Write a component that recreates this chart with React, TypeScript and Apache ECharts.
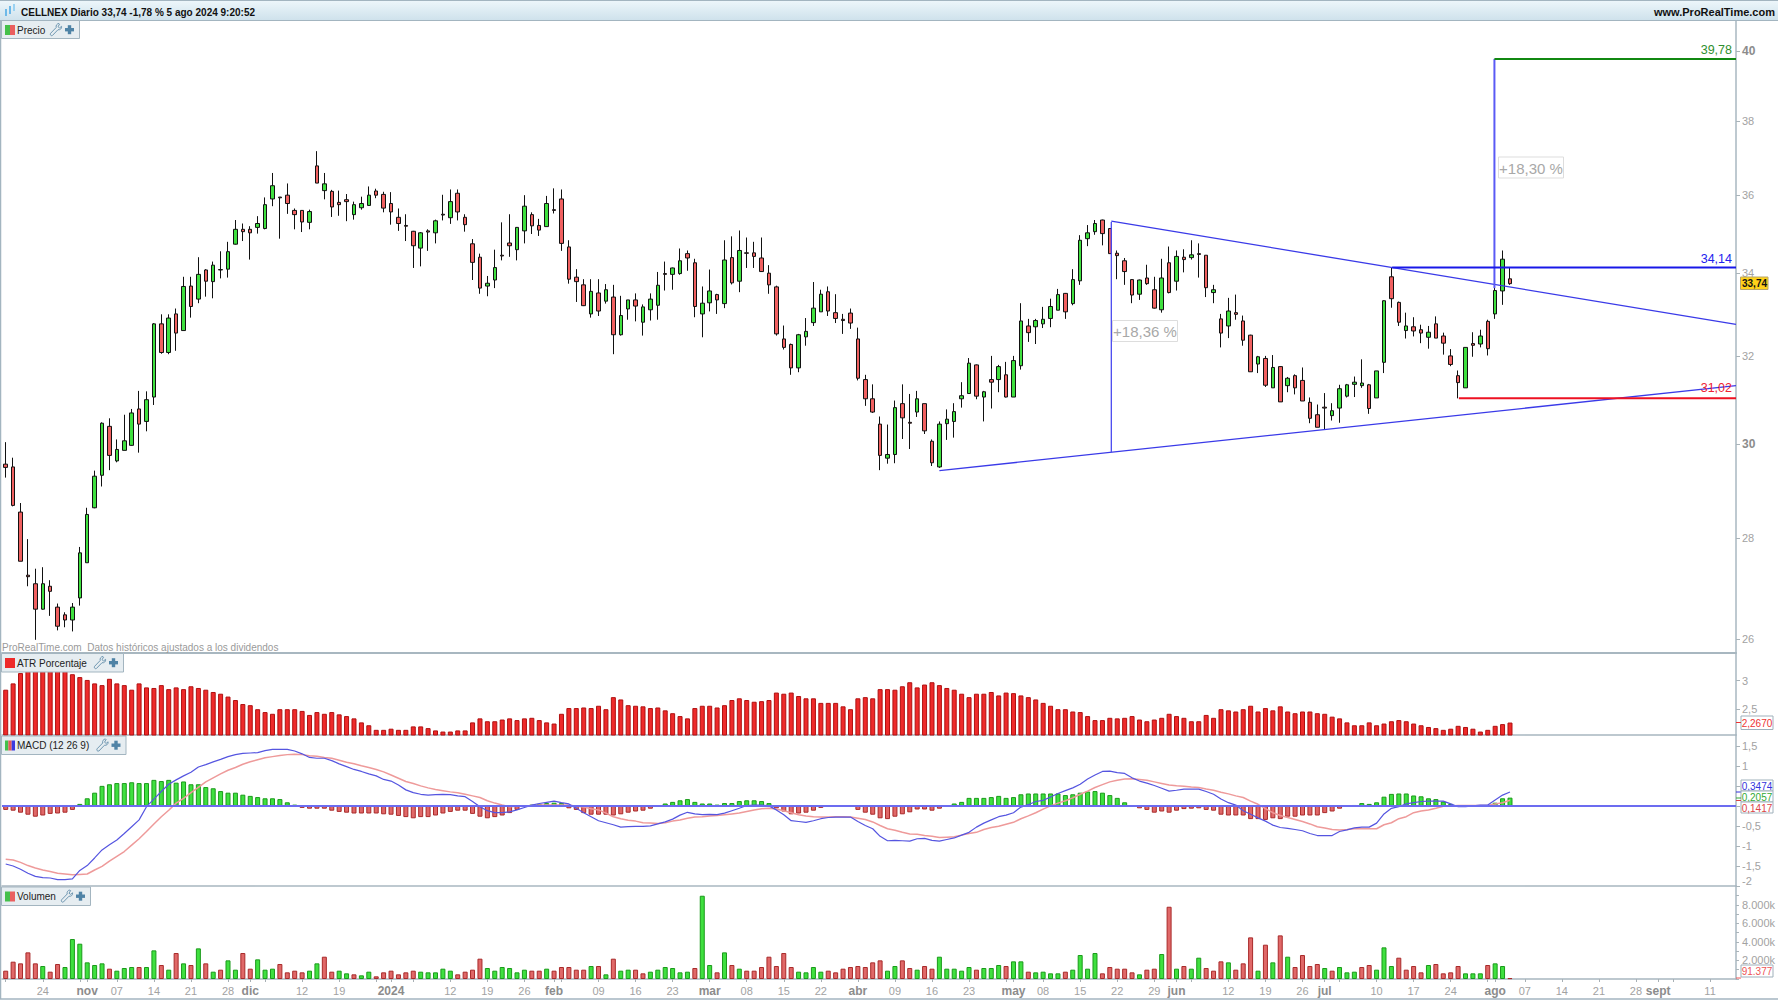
import React, { useEffect, useRef } from "react";
import * as echarts from "echarts";

const firstDate = "2023-10-17";
const barCount = 234;
const holidays = ["2023-12-25", "2023-12-26", "2024-01-01", "2024-03-29", "2024-04-01", "2024-05-01"];

const tickDates = ["2023-10-24","2023-11-01","2023-11-07","2023-11-14","2023-11-21","2023-11-28","2023-12-01","2023-12-12","2023-12-19","2024-01-02","2024-01-12","2024-01-19","2024-01-26","2024-02-01","2024-02-09","2024-02-16","2024-02-23","2024-03-01","2024-03-08","2024-03-15","2024-03-22","2024-04-02","2024-04-09","2024-04-16","2024-04-23","2024-05-02","2024-05-08","2024-05-15","2024-05-22","2024-05-29","2024-06-03","2024-06-12","2024-06-19","2024-06-26","2024-07-01","2024-07-10","2024-07-17","2024-07-24","2024-08-01","2024-08-07","2024-08-14","2024-08-21","2024-08-28","2024-09-02","2024-09-11"];
const tickTexts = ["24","nov","07","14","21","28","dic","12","19","2024","12","19","26","feb","09","16","23","mar","08","15","22","abr","09","16","23","may","08","15","22","29","jun","12","19","26","jul","10","17","24","ago","07","14","21","28","sept","11"];
const boldTicks = ["nov","dic","2024","feb","mar","abr","may","jun","jul","ago","sept"];

const priceTicks = [40, 38, 36, 34, 32, 30, 28, 26];
const atrTicks = [2.5, 3];
const macdTicks = [-2, -1.5, -1, -0.5, 0, 0.5, 1, 1.5];
const macdLabelTicks = [-2, -1.5, -1, -0.5, 1, 1.5];

const opens = [
29.56,29.50,28.54,27.25,27.08,26.58,27.03,26.62,26.47,26.37,
26.80,27.50,28.63,29.32,30.39,29.63,29.86,29.97,30.78,30.50,
31.05,32.76,32.08,33.00,32.60,33.68,33.36,34.08,33.79,34.09,
34.10,34.73,35.11,35.11,35.16,35.13,35.90,35.95,36.00,35.60,
35.60,35.29,36.78,36.12,36.10,35.81,35.88,35.49,35.67,35.73,
36.11,36.02,35.78,35.42,35.21,35.06,34.63,35.07,35.02,35.50,
35.41,36.05,35.42,34.74,34.40,33.68,33.83,34.45,34.76,34.59,
35.07,35.49,35.21,35.18,35.62,35.90,34.66,33.90,33.71,33.00,
33.51,33.31,33.41,32.50,33.12,33.34,32.80,33.10,33.21,33.99,
33.97,33.99,34.49,34.26,33.00,33.27,33.47,33.25,34.39,33.80,
34.51,34.51,34.38,34.00,33.66,32.40,32.27,31.72,32.45,32.79,
33.05,33.54,33.03,32.87,33.02,32.40,31.45,31.01,30.44,29.69,
29.77,30.90,30.48,30.71,30.90,30.06,29.50,30.45,30.50,31.01,
31.13,31.79,31.05,31.45,31.45,31.56,31.05,31.77,32.71,32.69,
32.76,32.89,33.09,33.50,33.25,33.81,34.87,35.05,35.35,35.13,
34.50,34.31,33.84,33.48,33.88,33.59,33.10,34.26,33.80,34.40,
34.39,34.49,34.45,33.52,32.88,32.71,33.03,32.83,32.49,31.81,
31.94,31.26,31.75,31.31,31.54,31.43,30.93,30.65,30.82,30.63,
30.80,31.07,31.34,31.31,31.33,31.03,31.85,33.91,33.28,32.60,
32.69,32.62,32.44,32.76,32.47,32.00,31.54,31.26,32.29,32.28,
32.82,33.00,33.56,33.86];
const closes = [
29.49,28.68,27.53,27.22,26.58,27.08,26.93,26.25,26.37,26.62,
27.70,28.49,29.30,30.46,29.75,29.88,30.07,30.69,30.44,30.99,
32.76,32.08,32.90,32.54,33.67,33.18,33.97,33.80,34.20,34.08,
34.54,35.11,35.05,35.02,35.26,35.75,36.25,35.93,35.78,35.49,
35.30,35.57,36.32,36.30,35.69,35.75,35.83,35.75,35.78,36.00,
36.00,35.66,35.56,35.26,35.19,34.69,35.02,35.04,35.33,35.48,
35.83,35.56,35.23,34.27,33.63,33.75,34.14,34.43,34.69,35.16,
35.71,35.20,35.09,35.78,35.60,34.75,33.85,33.79,33.20,33.55,
33.07,33.59,32.50,32.96,33.34,33.19,33.17,33.36,33.70,33.97,
34.13,34.31,34.38,33.18,33.26,33.56,33.34,34.33,33.76,34.57,
34.50,34.42,34.04,33.71,32.52,32.20,31.72,32.50,32.58,33.14,
33.48,33.07,32.89,32.84,32.78,31.48,31.01,30.71,29.75,29.77,
30.81,30.58,30.46,31.01,30.29,29.59,30.44,30.55,30.72,31.08,
31.83,31.07,31.17,31.39,31.75,31.05,31.89,32.83,32.55,32.84,
32.87,33.18,33.47,33.05,33.84,34.83,35.02,35.26,35.00,34.49,
34.44,34.04,33.46,33.83,33.74,33.14,33.88,33.52,34.42,34.34,
34.46,34.47,33.64,33.59,32.54,33.07,32.99,32.37,31.63,31.98,
31.32,31.73,30.94,31.48,31.26,30.96,30.57,30.37,30.80,30.74,
31.24,31.33,31.39,31.37,30.79,31.65,33.32,33.37,32.80,32.71,
32.59,32.54,32.56,32.42,32.30,31.80,31.38,32.20,32.25,32.47,
32.17,33.57,34.35,33.74];
const lows = [
29.27,28.66,27.53,27.03,25.99,26.57,26.45,26.17,26.23,26.15,
26.65,27.50,28.62,29.08,29.43,29.60,29.86,29.96,29.81,30.28,
30.87,32.05,32.04,32.12,32.60,32.91,33.26,33.42,33.38,33.87,
33.89,34.72,34.81,34.34,35.00,35.11,35.71,34.87,35.51,35.11,
35.04,35.11,36.32,35.89,35.43,35.46,35.32,35.36,35.62,35.72,
35.92,35.55,35.23,35.07,34.81,34.13,34.17,34.56,34.75,35.34,
35.25,35.34,35.05,33.83,33.49,33.43,33.63,34.32,34.41,34.32,
34.75,34.99,34.94,35.18,35.52,34.56,33.74,33.29,33.19,32.91,
32.95,33.25,32.04,32.48,32.86,32.82,32.48,32.84,32.86,33.57,
33.59,33.96,34.06,32.92,32.44,33.06,33.00,33.14,33.72,33.53,
34.13,34.13,34.03,33.49,32.48,32.15,31.56,31.62,32.24,32.71,
33.05,32.95,32.78,32.52,32.64,31.43,30.85,30.69,29.43,29.57,
29.58,30.11,29.89,30.60,30.22,29.52,29.48,30.09,30.14,30.81,
31.13,31.00,30.50,30.79,31.16,31.04,31.05,31.68,32.33,32.28,
32.66,32.68,33.09,32.88,33.21,33.71,34.68,34.97,34.70,34.49,
33.85,33.71,33.26,33.34,33.71,33.13,33.03,33.50,33.57,34.02,
34.34,33.89,33.41,33.26,32.20,32.42,32.86,32.24,31.63,31.60,
31.28,31.26,30.94,31.16,31.11,30.96,30.46,30.37,30.33,30.52,
30.47,31.04,31.05,31.26,30.67,31.03,31.60,33.15,32.71,32.41,
32.46,32.30,32.17,32.42,32.03,31.76,31.02,31.26,31.98,32.20,
32.01,32.88,33.22,33.71];
const highs = [
30.04,29.70,28.73,27.98,27.38,27.41,27.15,26.69,26.52,26.70,
27.82,28.63,29.42,30.48,30.57,30.10,30.65,30.78,31.19,31.18,
32.78,32.99,32.99,33.13,33.91,33.91,34.40,34.10,34.29,34.55,
34.79,35.35,35.26,35.19,35.45,35.94,36.59,35.95,36.31,35.65,
35.60,35.62,37.18,36.59,36.14,36.12,36.03,35.83,35.96,36.23,
36.17,36.09,36.08,35.65,35.50,35.07,35.04,35.11,35.36,36.01,
36.15,36.15,35.50,34.86,34.49,33.93,34.59,35.29,35.50,35.17,
36.00,35.55,35.38,35.98,36.18,36.15,34.83,34.10,33.85,33.85,
33.85,33.73,33.71,33.44,33.34,33.50,33.23,33.50,34.03,34.29,
34.14,34.62,34.57,34.36,33.67,34.09,33.49,34.83,34.93,35.08,
34.90,34.79,34.90,34.20,33.69,32.72,32.29,32.52,32.90,33.78,
33.59,33.67,33.48,33.00,33.13,32.67,31.56,31.34,30.61,30.43,
30.97,31.34,31.12,31.19,30.90,30.10,30.50,30.77,30.91,31.39,
31.95,31.80,31.19,32.00,31.79,31.86,32.00,33.26,32.88,32.88,
33.17,33.37,33.61,33.51,34.10,34.96,35.22,35.35,35.36,35.14,
34.57,34.38,33.85,33.84,34.21,33.91,34.36,34.67,34.57,34.60,
34.83,34.75,34.45,33.71,33.00,33.39,33.47,32.96,32.50,32.00,
32.00,32.02,31.76,31.51,31.57,31.73,31.04,30.88,31.14,30.91,
31.33,31.35,31.52,31.92,31.35,31.65,33.33,34.15,33.30,33.03,
32.92,32.74,32.71,32.94,32.55,32.16,31.66,32.20,32.56,32.62,
32.86,33.67,34.57,34.13];

const atrValues = [
2.84,2.95,3.13,3.19,3.21,3.22,3.22,3.21,3.19,3.11,
3.06,3.01,2.95,2.92,3.03,2.95,2.92,2.84,2.95,2.88,
2.87,2.92,2.85,2.88,2.85,2.90,2.87,2.84,2.80,2.77,
2.72,2.66,2.59,2.57,2.50,2.45,2.42,2.50,2.50,2.50,
2.47,2.40,2.45,2.42,2.45,2.41,2.38,2.34,2.27,2.22,
2.14,2.14,2.16,2.14,2.14,2.20,2.20,2.17,2.13,2.11,
2.11,2.13,2.13,2.27,2.34,2.29,2.29,2.32,2.34,2.31,
2.34,2.35,2.31,2.27,2.25,2.42,2.52,2.52,2.53,2.52,
2.56,2.50,2.71,2.67,2.57,2.56,2.55,2.52,2.53,2.48,
2.43,2.38,2.34,2.52,2.56,2.56,2.53,2.57,2.66,2.69,
2.66,2.63,2.64,2.66,2.79,2.77,2.79,2.73,2.69,2.69,
2.61,2.61,2.61,2.55,2.50,2.69,2.71,2.69,2.85,2.85,
2.84,2.90,2.97,2.88,2.93,2.97,2.92,2.87,2.84,2.77,
2.71,2.77,2.77,2.80,2.74,2.79,2.78,2.74,2.71,2.67,
2.61,2.56,2.50,2.50,2.46,2.45,2.38,2.31,2.31,2.35,
2.34,2.35,2.38,2.32,2.29,2.32,2.35,2.42,2.38,2.35,
2.29,2.29,2.40,2.35,2.50,2.48,2.46,2.50,2.56,2.46,
2.52,2.48,2.55,2.46,2.43,2.46,2.46,2.43,2.42,2.37,
2.34,2.27,2.22,2.22,2.27,2.22,2.25,2.29,2.31,2.29,
2.25,2.22,2.19,2.17,2.14,2.16,2.21,2.19,2.16,2.11,
2.14,2.21,2.24,2.267];

const macdLine = [
-1.45,-1.50,-1.58,-1.68,-1.76,-1.79,-1.80,-1.84,-1.84,-1.82,
-1.61,-1.49,-1.30,-1.10,-0.97,-0.85,-0.69,-0.52,-0.35,-0.02,
0.17,0.36,0.54,0.65,0.75,0.84,0.97,1.03,1.10,1.16,
1.23,1.28,1.31,1.32,1.33,1.38,1.41,1.41,1.41,1.37,
1.30,1.21,1.19,1.19,1.13,1.05,0.98,0.91,0.86,0.80,
0.75,0.66,0.62,0.52,0.40,0.33,0.29,0.27,0.28,0.29,
0.28,0.25,0.23,0.11,-0.02,-0.12,-0.17,-0.17,-0.15,-0.10,
-0.04,0.02,0.06,0.09,0.12,0.08,0.05,-0.06,-0.17,-0.27,
-0.37,-0.42,-0.47,-0.53,-0.52,-0.51,-0.51,-0.50,-0.45,-0.40,
-0.33,-0.23,-0.16,-0.20,-0.22,-0.21,-0.22,-0.18,-0.12,-0.06,
0.01,0.02,0.02,0,-0.10,-0.22,-0.37,-0.39,-0.41,-0.37,
-0.32,-0.29,-0.28,-0.28,-0.28,-0.39,-0.49,-0.57,-0.76,-0.87,
-0.86,-0.87,-0.88,-0.82,-0.81,-0.86,-0.88,-0.84,-0.80,-0.73,
-0.66,-0.53,-0.43,-0.35,-0.27,-0.23,-0.17,-0.03,0.03,0.11,
0.14,0.22,0.31,0.38,0.45,0.54,0.67,0.77,0.86,0.87,
0.83,0.81,0.70,0.62,0.57,0.51,0.44,0.37,0.39,0.42,
0.42,0.42,0.36,0.29,0.17,0.08,0.02,-0.12,-0.21,-0.30,
-0.38,-0.48,-0.54,-0.56,-0.59,-0.62,-0.69,-0.74,-0.74,-0.74,
-0.64,-0.60,-0.55,-0.53,-0.53,-0.43,-0.20,-0.06,-0.02,0.05,
0.08,0.11,0.12,0.12,0.12,0.05,-0.02,-0.02,0,0.02,
0.02,0.15,0.27,0.3474];
const signalLine = [
-1.33,-1.35,-1.41,-1.49,-1.55,-1.60,-1.64,-1.68,-1.70,-1.72,
-1.71,-1.70,-1.60,-1.51,-1.38,-1.26,-1.14,-0.98,-0.82,-0.64,
-0.45,-0.27,-0.11,0.07,0.19,0.33,0.46,0.60,0.70,0.80,
0.89,0.96,1.04,1.10,1.15,1.20,1.23,1.26,1.28,1.29,
1.28,1.25,1.24,1.21,1.19,1.14,1.09,1.05,1.00,0.96,
0.91,0.85,0.77,0.69,0.61,0.56,0.50,0.45,0.41,0.38,
0.35,0.33,0.29,0.25,0.21,0.13,0.07,0.02,-0.02,-0.01,
0,0.01,0.02,0.02,0.02,0.02,0.02,-0.01,-0.03,-0.07,
-0.10,-0.18,-0.27,-0.32,-0.36,-0.38,-0.42,-0.43,-0.44,-0.42,
-0.38,-0.35,-0.31,-0.28,-0.27,-0.25,-0.24,-0.22,-0.20,-0.18,
-0.14,-0.10,-0.07,-0.06,-0.08,-0.12,-0.17,-0.22,-0.25,-0.27,
-0.28,-0.28,-0.27,-0.27,-0.28,-0.31,-0.34,-0.40,-0.49,-0.57,
-0.61,-0.66,-0.70,-0.71,-0.74,-0.76,-0.79,-0.78,-0.77,-0.73,
-0.69,-0.66,-0.59,-0.54,-0.51,-0.46,-0.41,-0.32,-0.25,-0.17,
-0.08,0,0.07,0.13,0.20,0.29,0.37,0.46,0.53,0.60,
0.64,0.67,0.68,0.66,0.64,0.60,0.56,0.52,0.50,0.49,
0.47,0.46,0.42,0.39,0.34,0.30,0.25,0.21,0.12,0.04,
-0.07,-0.17,-0.24,-0.29,-0.34,-0.39,-0.45,-0.52,-0.55,-0.59,
-0.60,-0.59,-0.57,-0.57,-0.57,-0.57,-0.47,-0.42,-0.32,-0.27,
-0.17,-0.13,-0.10,-0.06,-0.01,0,0.01,0.01,0.01,0.01,
0.01,0.05,0.08,0.1417];
const macdHist = [
-0.10,-0.12,-0.17,-0.22,-0.27,-0.24,-0.20,-0.19,-0.17,-0.10,
0.05,0.19,0.33,0.50,0.54,0.57,0.57,0.59,0.57,0.57,
0.65,0.62,0.65,0.58,0.61,0.54,0.54,0.47,0.44,0.37,
0.33,0.33,0.28,0.25,0.22,0.19,0.19,0.17,0.09,0.03,
-0.05,-0.07,-0.07,-0.07,-0.12,-0.15,-0.17,-0.19,-0.19,-0.19,
-0.19,-0.21,-0.22,-0.25,-0.28,-0.31,-0.28,-0.28,-0.24,-0.19,
-0.15,-0.12,-0.12,-0.20,-0.27,-0.31,-0.28,-0.24,-0.18,-0.10,
-0.02,0.03,0.05,0.07,0.08,0.07,-0.06,-0.10,-0.18,-0.22,
-0.22,-0.22,-0.24,-0.21,-0.17,-0.14,-0.12,-0.07,-0.01,0.06,
0.10,0.14,0.17,0.10,0.06,0.06,0.03,0.07,0.07,0.12,
0.14,0.14,0.12,0.07,-0.06,-0.14,-0.21,-0.19,-0.17,-0.12,
-0.05,-0.02,-0.005,0,0,-0.10,-0.17,-0.22,-0.31,-0.33,
-0.27,-0.21,-0.16,-0.09,-0.09,-0.12,-0.07,-0.02,0.06,0.10,
0.20,0.20,0.20,0.22,0.25,0.20,0.22,0.29,0.31,0.31,
0.31,0.31,0.31,0.27,0.29,0.33,0.36,0.37,0.33,0.27,
0.20,0.09,0,-0.06,-0.10,-0.17,-0.14,-0.17,-0.12,-0.08,
-0.07,-0.06,-0.10,-0.12,-0.22,-0.24,-0.24,-0.24,-0.33,-0.33,
-0.35,-0.31,-0.33,-0.27,-0.27,-0.24,-0.24,-0.24,-0.18,-0.14,
-0.07,-0.02,0.02,0.07,0.05,0.09,0.23,0.30,0.31,0.31,
0.26,0.24,0.19,0.17,0.11,0.05,0,0,0,0,
0,0.08,0.19,0.2057];

const volumes = [
900,1872,1692,2880,1692,1404,792,1620,1296,4320,
3816,1800,1512,1692,1116,900,1188,1296,1296,1296,
3096,1512,1008,2808,1692,1512,3312,1692,792,1008,
2016,1008,2808,1116,2124,1008,1116,1620,720,900,
720,900,1692,2412,792,900,612,504,396,792,
288,720,900,504,720,900,792,720,720,1116,
900,504,792,1008,2196,1188,900,1296,1188,720,
1008,900,900,1116,900,1296,1296,1008,1008,1404,
1404,504,2196,900,1008,1008,612,792,1008,1296,
1188,720,792,1188,9000,1512,720,2880,1512,1116,
900,900,1296,2412,1404,2808,1296,792,720,1296,
792,900,720,1116,1296,1404,1296,1800,2016,900,
1404,2016,1188,1008,1404,1116,2412,1116,1116,900,
1296,1008,1188,1188,1512,1404,1908,1908,792,720,
792,612,612,792,1008,2592,1116,2808,612,1296,
1116,1116,720,504,1008,1116,2700,7812,1116,1404,
1116,2304,1188,900,1908,1800,1008,1692,4500,900,
3708,1800,4716,2412,1296,2592,1404,1620,1188,900,
1296,720,792,1296,1512,1008,3420,1404,2304,1008,
1404,720,1512,1620,612,720,1404,612,612,612,
1512,1692,1404,91.377];
const volumeAxisTicks = [2000, 4000, 6000, 8000];

const upperTrendX = [149.2, 233.5];
const upperTrendP = [35.32, 32.75];
const lowerTrendX = [126, 233.5];
const lowerTrendP = [29.42, 31.31];
const firstMeasureX = [149.2, 149.2];
const firstMeasureP = [29.82, 35.3];
const secondMeasureX = [200.9, 200.9];
const secondMeasureP = [33.63, 39.78];
const targetLevel = 39.78;
const resistanceLevel = 34.14;
const supportLevel = 31.02;
const targetStartX = 200.9;
const resistanceStartX = 187.1;
const supportStartX = 196.1;
const axisEndX = 233.5;

const FONT = '"Liberation Sans", Arial, sans-serif';
const GREEN = "#3fe03f";
const RED = "#f06060";
const GRID_LEFT = 2;
const GRID_RIGHT = 42;
const AXIS_LINE = "#a8b7c0";

function pad(n: number) { return n < 10 ? "0" + n : "" + n; }
function buildCategories(): string[] {
  const out: string[] = [];
  const d = new Date(firstDate + "T12:00:00Z");
  while (out.length < barCount) {
    const s = d.getUTCFullYear() + "-" + pad(d.getUTCMonth() + 1) + "-" + pad(d.getUTCDate());
    const wd = d.getUTCDay();
    if (wd !== 0 && wd !== 6 && holidays.indexOf(s) < 0) out.push(s);
    d.setUTCDate(d.getUTCDate() + 1);
  }
  return out;
}

function txt(text: string, x: number, y: number, fill: string, font: string, align = "left", z = 110) {
  return { type: "text", z, silent: true, style: { text, x, y, fill, font, align, verticalAlign: "middle" } };
}
function rect(x: number, y: number, width: number, height: number, fill: any, stroke?: string, z = 100) {
  return { type: "rect", z, silent: true, shape: { x, y, width, height }, style: { fill, stroke: stroke || "none", lineWidth: stroke ? 1 : 0 } };
}
function hline(x1: number, y1: number, x2: number, y2: number, stroke: string, lineWidth = 1, z = 100) {
  return { type: "line", z, silent: true, shape: { x1, y1, x2, y2 }, style: { stroke, lineWidth } };
}
function tab(x: number, y: number, w: number, h: number, label: string, colors: string[]) {
  const els: any[] = [rect(x + 0.5, y + 0.5, w, h, "#e6edf1", "#a3b5c0", 100)];
  const sw = 10 / colors.length;
  colors.forEach((c, i) => els.push(rect(x + 4 + i * sw, y + 5, sw, 10, c, undefined, 101)));
  els.push(txt(label, x + 16, y + 10, "#222", '10px ' + FONT));
  const wx = x + w - 29;
  els.push({ type: "wrench", z: 102, silent: true, x: wx, y: y + 3.5, scaleX: 1, scaleY: 1, style: { fill: "none", stroke: "#6f97b1", lineWidth: 1 } });
  els.push(rect(wx + 15, y + 8, 9, 3.4, "#4f83a6", undefined, 102));
  els.push(rect(wx + 17.8, y + 5.2, 3.4, 9, "#4f83a6", undefined, 102));
  return els;
}
function valueBox(y: number, h: number, label: string, color: string, z: number, tickY: number) {
  return [
    rect(1741, y, 32, h, "#ffffff", "#9fb0bb", z),
    txt(label, 1757, y + h / 2 + 0.5, color, '10px ' + FONT, "center", z),
    hline(1736, tickY, 1741, tickY, color, 1, z),
  ];
}

echarts.graphic.registerShape(
  "wrench",
  echarts.graphic.extendPath("M9 0C7 0 5.6 2 6.2 4L0.6 9.8C-0.3 11 1 12.8 2.4 12L8 6.2C10 6.8 12 5 11.6 2.8L9.6 4.4L8 3.2L9.6 0.6Z", {})
);

export default function App() {
  const ref = useRef<HTMLDivElement>(null);
  useEffect(() => {
    const chart = echarts.init(ref.current!, undefined, { renderer: "svg", width: 1778, height: 1000 });
    const categories = buildCategories();
    const ln = (p: number) => Math.log(p);
    const lineData = (xs: number[], ps: number[]) => xs.map((x, i) => [x, ln(ps[i])]);
    const levelData = (x: number, p: number) => [[x, ln(p)], [axisEndX, ln(p)]];

    const grids = [
      { left: GRID_LEFT, right: GRID_RIGHT, top: 21, height: 632 },
      { left: GRID_LEFT, right: GRID_RIGHT, top: 653, height: 82 },
      { left: GRID_LEFT, right: GRID_RIGHT, top: 735, height: 151 },
      { left: GRID_LEFT, right: GRID_RIGHT, top: 886, height: 93 },
    ];
    const sepX = (gridIndex: number, width: number) => ({
      type: "category", gridIndex, data: categories, boundaryGap: true,
      axisLine: { show: true, onZero: false, lineStyle: { color: AXIS_LINE, width } },
      axisTick: { show: false }, axisLabel: { show: false }, splitLine: { show: false },
    });
    const rightAxis = (gridIndex: number, min: number, max: number, ticks: number[], labels: number[], fmt: (v: number) => string, extra: any = {}) => ({
      type: "value", gridIndex, position: "right", min, max, scale: false,
      axisLine: { show: true, onZero: false, lineStyle: { color: AXIS_LINE, width: 1.5 } },
      axisTick: { show: true, length: 4, lineStyle: { color: "#aab4ba" }, customValues: ticks },
      splitLine: { show: false },
      axisLabel: { color: "#a2a2a2", fontSize: 11, margin: 6, fontFamily: FONT, customValues: labels, formatter: fmt, ...extra },
    });

    const option: any = {
      animation: false,
      backgroundColor: "#ffffff",
      textStyle: { fontFamily: FONT },
      grid: grids,
      xAxis: [
        sepX(0, 2), sepX(1, 1.5), sepX(2, 1.5),
        {
          type: "category", gridIndex: 3, data: categories, boundaryGap: true,
          axisLine: { show: true, onZero: false, lineStyle: { color: AXIS_LINE, width: 1.5 } },
          axisTick: {
            show: true, alignWithLabel: true, length: 3, lineStyle: { color: "#a8b0b5" },
            interval: (i: number, v: string) => i % 5 === 0 || tickDates.indexOf(v) >= 0,
          },
          axisLabel: {
            show: true, margin: 6, fontSize: 11, color: "#a2a2a2", hideOverlap: false,
            interval: (_: number, v: string) => tickDates.indexOf(v) >= 0,
            formatter: (v: string) => {
              const t = tickTexts[tickDates.indexOf(v)];
              if (t === undefined) return "";
              return boldTicks.indexOf(t) >= 0 ? "{b|" + t + "}" : t;
            },
            rich: { b: { fontSize: 12, fontWeight: "bold", color: "#8c8c8c", fontFamily: FONT } },
          },
          splitLine: { show: false },
        },
        { type: "value", gridIndex: 0, min: -0.5, max: barCount - 0.5, show: false },
      ],
      yAxis: [
        rightAxis(0, ln(25.74), ln(40.9), priceTicks.map(ln), priceTicks.map(ln), (v: number) => {
          const p = Math.round(Math.exp(v));
          return p === 40 || p === 30 ? "{b|" + p + "}" : "" + p;
        }, { rich: { b: { fontSize: 12, fontWeight: "bold", color: "#8c8c8c", fontFamily: FONT } } }),
        rightAxis(1, 2.05, 3.48, atrTicks, atrTicks, (v: number) => String(v).replace(".", ",")),
        rightAxis(2, -2, 1.77, macdTicks, macdLabelTicks, (v: number) => String(v).replace(".", ","), { verticalAlignMinLabel: "bottom" }),
        {
          type: "value", gridIndex: 3, position: "right", min: 0, max: 10054, interval: 1000,
          axisLine: { show: true, onZero: false, lineStyle: { color: AXIS_LINE, width: 1.5 } },
          axisTick: { show: true, length: 3, lineStyle: { color: "#aab4ba" } },
          splitLine: { show: false },
          axisLabel: {
            color: "#a2a2a2", fontSize: 11, margin: 6, fontFamily: FONT, showMaxLabel: false,
            formatter: (v: number) => volumeAxisTicks.indexOf(v) >= 0 ? (v / 1000) + ".000k" : "",
          },
        },
      ],
      series: [
        {
          type: "candlestick", xAxisIndex: 0, yAxisIndex: 0, barWidth: 4, silent: true,
          data: opens.map((o, i) => [ln(o), ln(closes[i]), ln(lows[i]), ln(highs[i])]),
          itemStyle: { color: GREEN, color0: RED, borderColor: "#111", borderColor0: "#111", borderColorDoji: "#111", borderWidth: 1 },
        },
        ...[
          { data: lineData(upperTrendX, upperTrendP), color: "#3a3ae8", width: 1.3 },
          { data: lineData(lowerTrendX, lowerTrendP), color: "#3a3ae8", width: 1.3 },
          { data: lineData(firstMeasureX, firstMeasureP), color: "#4a4af0", width: 1.3 },
          { data: lineData(secondMeasureX, secondMeasureP), color: "#5a5af5", width: 2 },
          { data: levelData(targetStartX, targetLevel), color: "#118811", width: 2 },
          { data: levelData(resistanceStartX, resistanceLevel), color: "#1818e8", width: 2 },
          { data: levelData(supportStartX, supportLevel), color: "#ee1122", width: 2 },
        ].map((s) => ({
          type: "line", xAxisIndex: 4, yAxisIndex: 0, data: s.data, showSymbol: false, silent: true, z: 5,
          lineStyle: { color: s.color, width: s.width },
        })),
        {
          type: "bar", xAxisIndex: 1, yAxisIndex: 1, barWidth: 5, silent: true, data: atrValues,
          itemStyle: { color: "#ee2a2a", borderColor: "#b01010", borderWidth: 1 },
        },
        {
          type: "bar", xAxisIndex: 2, yAxisIndex: 2, barWidth: 5, silent: true,
          data: macdHist.map((v) => ({
            value: v,
            itemStyle: v >= 0 ? { color: GREEN, borderColor: "#1a9a1a", borderWidth: 1 } : { color: "#e06868", borderColor: "#a82a2a", borderWidth: 1 },
          })),
          markLine: {
            silent: true, symbol: "none", animation: false, label: { show: false }, z: 6,
            lineStyle: { color: "#6c6cf0", width: 2.2, type: "solid" }, data: [{ yAxis: 0 }],
          },
        },
        { type: "line", xAxisIndex: 2, yAxisIndex: 2, data: signalLine, showSymbol: false, silent: true, z: 4, lineStyle: { color: "#ee9a9a", width: 1.5 } },
        { type: "line", xAxisIndex: 2, yAxisIndex: 2, data: macdLine, showSymbol: false, silent: true, z: 5, lineStyle: { color: "#5555e0", width: 1.2 } },
        {
          type: "bar", xAxisIndex: 3, yAxisIndex: 3, barWidth: 5, silent: true,
          data: volumes.map((v, i) => {
            const up = i > 0 && closes[i] > closes[i - 1];
            return { value: v, itemStyle: up ? { color: GREEN, borderColor: "#1a9a1a", borderWidth: 1 } : { color: "#e06868", borderColor: "#a82a2a", borderWidth: 1 } };
          }),
        },
      ],
      graphic: {
        elements: [
          rect(0, 0, 1778, 20, new echarts.graphic.LinearGradient(0, 0, 0, 1, [
            { offset: 0, color: "#eef7fb" }, { offset: 1, color: "#cfe2ec" },
          ])),
          hline(0, 20.5, 1778, 20.5, "#a3b5c0", 1.2),
          hline(0, 0.5, 1778, 0.5, "#a3b5c0", 1),
          hline(0.5, 20, 0.5, 999, "#a3b5c0", 1.5),
          hline(0, 999, 1778, 999, "#a3b5c0", 1.5),
          rect(5, 9, 2, 7, "#6db9e8"), rect(9, 6, 2, 8, "#6db9e8"), rect(13, 4, 2, 7, "#9ad2f2"),
          txt("CELLNEX Diario 33,74 -1,78 % 5 ago 2024 9:20:52", 21, 12, "#111", 'bold 10px ' + FONT),
          txt("www.ProRealTime.com", 1775, 12, "#111", 'bold 11px ' + FONT, "right"),
          ...tab(1, 20, 78, 18, "Precio", ["#44c04a", "#ea5f5f"]),
          ...tab(1, 653, 122, 18.5, "ATR Porcentaje", ["#ee2a2a"]),
          ...tab(1, 735.5, 124.5, 18.5, "MACD (12 26 9)", ["#44c04a", "#e45a5a", "#3a3ae0"]),
          ...tab(1, 886.5, 89, 18.5, "Volumen", ["#44c04a", "#ea5f5f"]),
          txt("ProRealTime.com  Datos históricos ajustados a los dividendos", 2, 647, "#9a9a9a", '10px ' + FONT),
          txt("39,78", 1732, 50, "#2f8f2f", '12.5px ' + FONT, "right"),
          txt("34,14", 1732, 258.5, "#2222ee", '12.5px ' + FONT, "right"),
          txt("31,02", 1732, 388, "#ee2233", '12.5px ' + FONT, "right"),
          rect(1112.5, 320.5, 65, 21, "#ffffff", "#dddddd", 60),
          txt("+18,36 %", 1145, 331.5, "#a8a8a8", '15px ' + FONT, "center", 61),
          rect(1498.5, 157, 65, 21, "#ffffff", "#dddddd", 60),
          txt("+18,30 %", 1531, 168, "#a8a8a8", '15px ' + FONT, "center", 61),
          rect(1740.5, 277, 27.5, 12.5, "#ffd21a", "#b8a66a", 100),
          txt("33,74", 1754.5, 283.5, "#111", 'bold 10px ' + FONT, "center"),
          ...valueBox(716, 13.5, "2,2670", "#ee3333", 100, 722.5),
          ...valueBox(780, 11, "0,3474", "#3333dd", 100, 792),
          ...valueBox(791, 11, "0,2057", "#33aa33", 101, 798),
          ...valueBox(802, 11, "0,1417", "#dd4444", 102, 800.5),
          ...valueBox(965, 12, "91.377", "#ee5555", 100, 978),
        ],
      },
    };
    chart.setOption(option);
    return () => chart.dispose();
  }, []);
  return <div ref={ref} style={{ position: "absolute", left: 0, top: 0, width: 1778, height: 1000, background: "#fff" }} />;
}
